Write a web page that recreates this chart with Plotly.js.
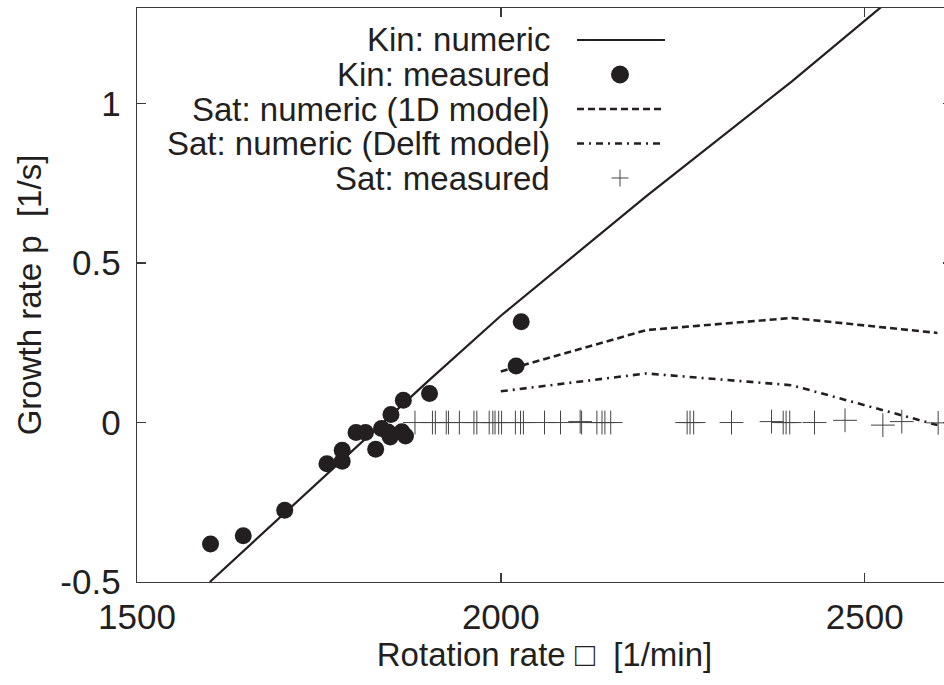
<!DOCTYPE html>
<html>
<head>
<meta charset="utf-8">
<script src="https://cdn.plot.ly/plotly-3.0.1.min.js"></script>
<style>
html,body{margin:0;padding:0;overflow:hidden;background:#fff;}
#chart{width:960px;height:685px;}
</style>
</head>
<body>
<div id="chart"></div>
<script>
// ---- data ----
const kinNumX = [1600, 1700, 1800, 1900, 2000, 2200, 2400, 2600];
const kinNumY = [-0.50, -0.29, -0.08, 0.13, 0.335, 0.71, 1.07, 1.45];

const kinMeasX = [1601, 1646, 1703, 1761, 1782, 1782, 1801, 1814, 1828, 1836, 1845, 1848, 1849, 1864, 1869, 1866, 1902, 2021, 2028];
const kinMeasY = [-0.381, -0.355, -0.275, -0.129, -0.121, -0.087, -0.031, -0.031, -0.084, -0.019, -0.030, -0.045, 0.025, -0.029, -0.042, 0.070, 0.091, 0.177, 0.316];

const sat1DX = [2000, 2200, 2400, 2600];
const sat1DY = [0.160, 0.290, 0.328, 0.281];

const satDelftX = [2000, 2200, 2400, 2600];
const satDelftY = [0.098, 0.154, 0.117, -0.008];

const satMeasX = [1882, 1906, 1910, 1925, 1928, 1943, 1963, 1967, 1984, 1989, 1992, 1997, 2001, 2020, 2027, 2031, 2060, 2082, 2109, 2111, 2132, 2139, 2143, 2151, 2256, 2260, 2265, 2317, 2372, 2388, 2392, 2397, 2431, 2473, 2525, 2551, 2601];
const satMeasY = [0, 0, 0, 0, 0, 0, 0, 0, 0, 0, 0, 0, 0, 0, 0, 0, 0, 0, 0.003, 0, 0, 0, 0, 0, 0, 0, 0, 0, 0.003, 0, 0, 0, 0, 0.007, -0.008, 0.003, -0.001];

const legendLabels = ["Kin: numeric", "Kin: measured", "Sat: numeric (1D model)", "Sat: numeric (Delft model)", "Sat: measured"];

const xTickVals = [1500, 2000, 2500];
const xTickText = ["1500", "2000", "2500"];
const yTickVals = [-0.5, 0, 0.5, 1];
const yTickText = ["-0.5", "0", "0.5", "1"];

// ---- styling ----
const FONT = "Liberation Sans, Arial, Helvetica, sans-serif";
const INK = "#231f20";
const TXT = "#231f20";
const W = 960, H = 685;
const M = {l: 137, r: 8, t: 8, b: 103};
const PW = W - M.l - M.r, PH = H - M.t - M.b;
const px2x = p => (p - M.l) / PW;
const py2y = p => 1 - (p - M.t) / PH;

const traces = [
  {x: kinNumX, y: kinNumY, mode: "lines", line: {color: INK, width: 2.2}, hoverinfo: "skip"},
  {x: sat1DX, y: sat1DY, mode: "lines", line: {color: INK, width: 2.6, dash: "7px,4px"}, hoverinfo: "skip"},
  {x: satDelftX, y: satDelftY, mode: "lines", line: {color: INK, width: 2.6, dash: "7px,5px,2px,5px"}, hoverinfo: "skip"},
  {x: kinMeasX, y: kinMeasY, mode: "markers", marker: {symbol: "circle", size: 17, color: INK, line: {width: 0}}, hoverinfo: "skip"},
  {x: satMeasX, y: satMeasY, mode: "markers", marker: {symbol: "cross-thin", size: 17, color: "#444", line: {color: "#444", width: 1}}, hoverinfo: "skip"}
];

// custom legend (text right-aligned, sample on the right, as in the reference)
const rowY = [40, 74.5, 109, 143.5, 178];
const textRight = 552, keyL = 577, keyR = 665, keyC = 620;
const annotations = legendLabels.map((t, i) => ({
  text: t, xref: "paper", yref: "paper", x: px2x(textRight), y: py2y(rowY[i]),
  xanchor: "right", yanchor: "middle", showarrow: false,
  font: {family: FONT, size: 33, color: TXT}
}));
const shapes = [
  {type: "line", xref: "paper", yref: "paper", x0: px2x(keyL), x1: px2x(keyR), y0: py2y(rowY[0]), y1: py2y(rowY[0]), line: {color: INK, width: 2.2}},
  {type: "circle", xref: "paper", yref: "paper", x0: px2x(keyC - 9), x1: px2x(keyC + 9), y0: py2y(rowY[1] - 9), y1: py2y(rowY[1] + 9), fillcolor: INK, line: {width: 0}},
  {type: "line", xref: "paper", yref: "paper", x0: px2x(keyL), x1: px2x(keyR), y0: py2y(rowY[2]), y1: py2y(rowY[2]), line: {color: INK, width: 2.6, dash: "7px,4px"}},
  {type: "line", xref: "paper", yref: "paper", x0: px2x(keyL), x1: px2x(keyR), y0: py2y(rowY[3]), y1: py2y(rowY[3]), line: {color: INK, width: 2.6, dash: "7px,5px,2px,5px"}},
  {type: "line", xref: "paper", yref: "paper", x0: px2x(keyC - 8.5), x1: px2x(keyC + 8.5), y0: py2y(rowY[4]), y1: py2y(rowY[4]), line: {color: "#444", width: 1}},
  {type: "line", xref: "paper", yref: "paper", x0: px2x(keyC), x1: px2x(keyC), y0: py2y(rowY[4] - 8.5), y1: py2y(rowY[4] + 8.5), line: {color: "#444", width: 1}}
];

const axisCommon = {
  showgrid: false, zeroline: false, showline: true, linecolor: "#3a3a3a", linewidth: 1.4,
  mirror: "ticks", ticks: "inside", ticklen: 9, tickwidth: 1.4, tickcolor: "#3a3a3a",
  tickfont: {family: FONT, size: 35, color: TXT}, tickmode: "array", fixedrange: true
};

const layout = {
  width: W, height: H, margin: M, showlegend: false,
  paper_bgcolor: "#fff", plot_bgcolor: "#fff",
  xaxis: Object.assign({}, axisCommon, {
    range: [1500, 2620], tickvals: xTickVals, ticktext: xTickText, ticklabelstandoff: 4,
    title: {text: "Rotation rate \u25A1  [1/min]", font: {family: FONT, size: 33, color: TXT}, standoff: 6}
  }),
  yaxis: Object.assign({}, axisCommon, {
    range: [-0.5, 1.3], tickvals: yTickVals, ticktext: yTickText, ticklabelstandoff: 8,
    title: {text: "Growth rate p  [1/s]", font: {family: FONT, size: 33, color: TXT}, standoff: 8}
  }),
  annotations: annotations, shapes: shapes
};

Plotly.newPlot("chart", traces, layout, {staticPlot: true, displayModeBar: false});
</script>
</body>
</html>
